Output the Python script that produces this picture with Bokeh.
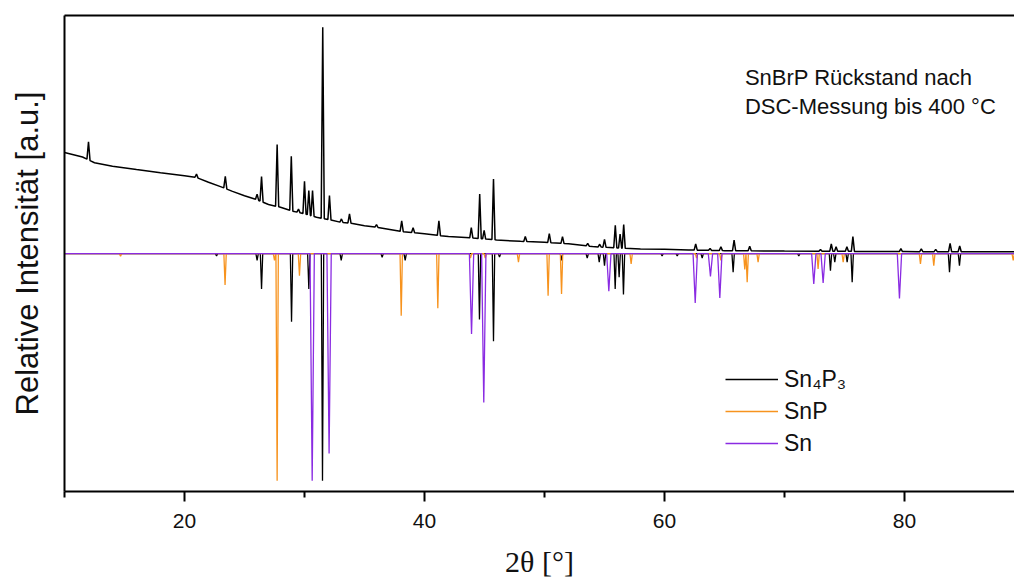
import numpy as np
from bokeh.plotting import figure
from bokeh.models import Range1d, LinearAxis, FixedTicker, Legend, LegendItem
from bokeh.embed import file_html
from bokeh.resources import INLINE
from bokeh.core.properties import value

# ---------------- data ----------------
# measured pattern: background points (2theta, relative intensity)
bg_x = [10, 11.5, 12.5, 14, 16, 18, 20, 21, 22, 23, 24, 25, 26, 27, 28, 29, 30, 31, 32, 33,
        34, 35, 36, 38, 40, 42, 44, 46, 48, 50, 52, 54, 56, 58, 60, 62, 65, 70, 75, 80, 85, 89.2]
bg_y = [0.445, 0.425, 0.40, 0.385, 0.37, 0.356, 0.343, 0.335, 0.314, 0.295, 0.274, 0.255, 0.238,
        0.216, 0.204, 0.187, 0.175, 0.16, 0.15, 0.138, 0.133, 0.123, 0.116, 0.098, 0.087, 0.075,
        0.069, 0.06, 0.054, 0.05, 0.043, 0.031, 0.025, 0.02, 0.019, 0.016, 0.013, 0.011, 0.01,
        0.009, 0.008, 0.008]
# measured reflections: position and height above background
meas_pos = [12.0, 21.0, 23.4, 26.05, 26.42, 27.72, 28.9, 29.5, 30.0, 30.36, 30.67, 31.52, 32.08,
            33.08, 33.75, 36.0, 38.1, 39.05, 41.2, 43.9, 44.6, 44.97, 45.75, 48.4, 50.4, 51.5,
            53.6, 54.6, 55.0, 55.9, 56.3, 56.6, 62.6, 63.8, 64.7, 65.8, 67.1, 73.0, 73.9, 74.3,
            75.2, 75.7, 79.7, 81.4, 82.6, 83.8, 84.6]
meas_h = [0.08, 0.015, 0.053, 0.025, 0.11, 0.273, 0.24, 0.015, 0.143, 0.108, 0.113, 0.842, 0.106,
          0.015, 0.041, 0.012, 0.047, 0.022, 0.065, 0.045, 0.196, 0.038, 0.267, 0.022, 0.039, 0.03,
          0.012, 0.012, 0.035, 0.099, 0.062, 0.104, 0.027, 0.008, 0.017, 0.047, 0.02, 0.008, 0.032,
          0.02, 0.02, 0.065, 0.013, 0.012, 0.01, 0.037, 0.026]

# reference patterns (plotted downward)
sn4p3_pos = [22.67, 26.05, 26.42, 28.92, 30.36, 31.5, 33.06, 36.47, 38.39, 44.58, 45.75, 46.25,
             51.42, 53.56, 54.56, 55.0, 55.89, 56.22, 56.58, 59.8, 61.06, 63.14, 65.72, 71.19,
             73.83, 74.19, 75.22, 75.64, 83.75, 84.58]
sn4p3_h = [0.01, 0.03, 0.156, 0.30, 0.156, 1.0, 0.03, 0.016, 0.03, 0.29, 0.386, 0.015,
           0.03, 0.02, 0.038, 0.053, 0.156, 0.104, 0.18, 0.01, 0.01, 0.02, 0.082, 0.01,
           0.075, 0.038, 0.038, 0.126, 0.082, 0.053]
snp_pos = [14.67, 23.38, 27.5, 27.72, 29.58, 38.06, 41.11, 43.83, 45.06, 47.83, 50.3, 51.42,
           57.22, 62.67, 64.7, 66.69, 66.89, 67.8, 72.8, 74.89, 81.33, 82.44, 89.06]
snp_h = [0.012, 0.138, 0.03, 1.0, 0.097, 0.273, 0.24, 0.02, 0.02, 0.038, 0.185, 0.178,
         0.045, 0.02, 0.03, 0.07, 0.126, 0.038, 0.067, 0.038, 0.045, 0.053, 0.03]
sn_pos = [30.64, 32.05, 43.92, 44.94, 55.36, 62.56, 63.83, 64.61, 72.44, 73.22, 79.58]
sn_h = [1.0, 0.88, 0.354, 0.655, 0.166, 0.217, 0.10, 0.195, 0.134, 0.129, 0.197]

series_labels = ["Sn\u2084P\u2083", "SnP", "Sn"]
x_title = "2\u03b8 [\u00b0]"
y_title = "Relative Intensit\u00e4t [a.u.]"
note_lines = ["SnBrP R\u00fcckstand nach", "DSC-Messung bis 400 \u00b0C"]
x_ticks = [20, 40, 60, 80]
x_minor = [10, 30, 50, 70, 90]

# ---------------- layout / style ----------------
X_LO, X_HI = 10, 89.167
Y_LO, Y_HI = -1.047, 1.048
NOTE_X = 66.7
NOTE_Y = [0.774, 0.648]
BLACK = "#000000"
ORANGE = "#F7931E"
PURPLE = "#8A2BE2"
FONT = "Liberation Sans"


def stick_profile(pos, h, hw, sign=1.0, base_x=None, base_y=None):
    """Piecewise-linear profile: each reflection drawn as a narrow spike."""
    xs = [X_LO, X_HI]
    for p in pos:
        xs += [p - hw, p, p + hw]
    if base_x is not None:
        xs += list(base_x)
    xs = np.unique(np.clip(np.array(xs, dtype=float), X_LO, X_HI))
    y = np.zeros_like(xs)
    for p, hh in zip(pos, h):
        y += hh * np.clip(1 - np.abs(xs - p) / hw, 0, None)
    y *= sign
    if base_x is not None:
        y += np.interp(xs, base_x, base_y)
    return xs, y


p = figure(width=1014, height=585,
           x_range=Range1d(X_LO, X_HI), y_range=Range1d(Y_LO, Y_HI),
           output_backend="svg", toolbar_location=None,
           min_border_left=64, min_border_right=0, min_border_top=15, min_border_bottom=94,
           outline_line_color=None, background_fill_color="white", border_fill_color="white")
p.grid.visible = False

# reference patterns
x1, y1 = stick_profile(sn4p3_pos, sn4p3_h, 0.1, sign=-1)
x2, y2 = stick_profile(snp_pos, snp_h, 0.1, sign=-1)
x3, y3 = stick_profile(sn_pos, sn_h, 0.18, sign=-1)
r1 = p.line(x1, y1, line_color=BLACK, line_width=1.3)
r2 = p.line(x2, y2, line_color=ORANGE, line_width=1.3)
r3 = p.line(x3, y3, line_color=PURPLE, line_width=1.3)

# measured pattern
xm, ym = stick_profile(meas_pos, meas_h, 0.13, sign=1, base_x=bg_x, base_y=bg_y)
p.line(xm, ym, line_color=BLACK, line_width=1.5)

# annotation
for txt, yy in zip(note_lines, NOTE_Y):
    p.text(x=[NOTE_X], y=[yy], text=[txt], text_font=value(FONT),
           text_font_size="22px", text_color="#111111", text_baseline="alphabetic",
           text_align="left")

# axes
xa = p.xaxis[0]
xa.ticker = FixedTicker(ticks=x_ticks, minor_ticks=x_minor)
xa.major_tick_out = 10
xa.major_tick_in = 0
xa.minor_tick_out = 6
xa.minor_tick_in = 0
xa.axis_line_width = 2
xa.major_tick_line_width = 2
xa.minor_tick_line_width = 2
xa.major_label_text_font = FONT
xa.major_label_text_font_size = "21px"
xa.major_label_text_color = "#111111"
xa.major_label_standoff = 12
xa.axis_label = x_title
xa.axis_label_text_font = "Liberation Serif"
xa.axis_label_text_font_size = "30px"
xa.axis_label_text_font_style = "normal"
xa.axis_label_text_color = "#111111"
xa.axis_label_standoff = 14

ya = p.yaxis[0]
ya.ticker = FixedTicker(ticks=[])
ya.major_tick_out = 0
ya.minor_tick_out = 0
ya.axis_line_width = 2
ya.major_label_text_font_size = "0px"
ya.axis_label = y_title
ya.axis_label_text_font = FONT
ya.axis_label_text_font_size = "31px"
ya.axis_label_text_font_style = "normal"
ya.axis_label_text_color = "#111111"
ya.axis_label_standoff = 20

top = LinearAxis(ticker=FixedTicker(ticks=[]), axis_line_width=2, major_tick_out=0,
                 minor_tick_out=0, major_label_text_font_size="0px")
p.add_layout(top, "above")

legend = Legend(items=[LegendItem(label=series_labels[0], renderers=[r1]),
                       LegendItem(label=series_labels[1], renderers=[r2]),
                       LegendItem(label=series_labels[2], renderers=[r3])],
                location=(661, 33), border_line_color=None, background_fill_alpha=0,
                label_text_font=FONT, label_text_font_size="23px",
                label_text_color="#111111",
                glyph_width=53, glyph_height=20, label_height=30, spacing=2,
                padding=0, margin=0, label_standoff=6)
p.add_layout(legend)

open("out.html", "w").write(file_html(p, INLINE))
